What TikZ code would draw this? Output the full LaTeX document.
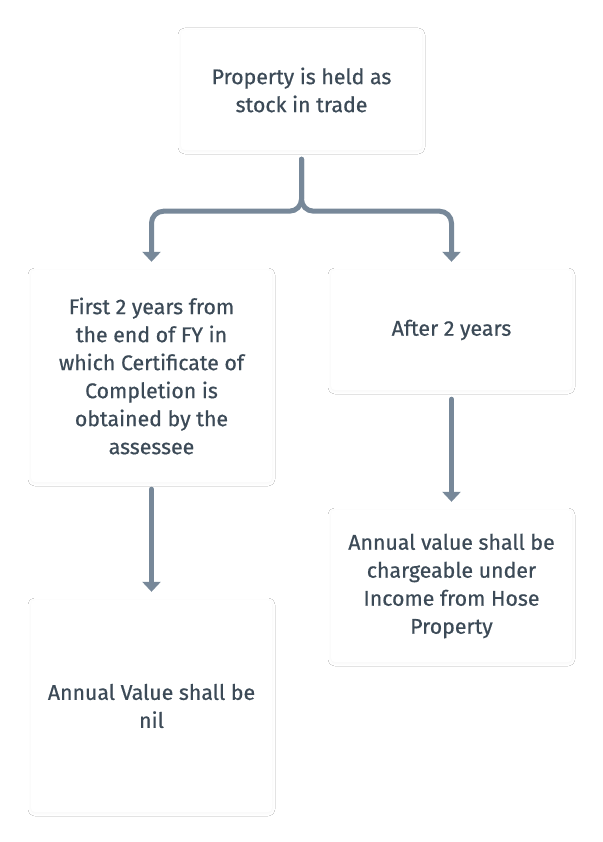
\documentclass[tikz,border=0pt]{standalone}
\usepackage{fontspec}
\setmainfont{Fira Sans}[FakeBold=0.6]
\usetikzlibrary{arrows.meta,calc,shadows.blur}
\definecolor{txt}{HTML}{3C4A57}
\definecolor{conn}{HTML}{778899}
\tikzset{
  box/.style={rectangle, rounded corners=4pt, fill=white, minimum width=241pt, inner sep=0pt,
    align=center, text=txt, font=\fontsize{21.3}{28}\selectfont,
    blur shadow={shadow xshift=0pt, shadow yshift=-1pt, shadow blur steps=6, shadow opacity=4, shadow blur radius=3pt}},
  conn/.style={draw=conn, line width=5pt, line cap=round, -{Triangle[width=18pt,length=10pt]}},
}
\begin{document}
\begin{tikzpicture}[x=1pt,y=-1pt]
\useasboundingbox[fill=white] (0,0) rectangle (602,842);
\node[box, minimum height=120pt] (top) at (301.5,90) {Property is held as\\stock in trade};
\node[box, minimum height=212pt] (lm) at (151.5,376) {First 2 years from\\the end of FY in\\which Certificate of\\Completion is\\obtained by the\\assessee};
\node[box, minimum height=120pt] (rm) at (451.5,330) {After 2 years};
\node[box, minimum height=212pt] (lb) at (151.5,706) {Annual Value shall be\\nil};
\node[box, minimum height=152pt] (rb) at (451.5,586) {Annual value shall be\\chargeable under\\Income from Hose\\Property};
\coordinate (s) at ($(top.south)+(0,9)$);
\coordinate (j) at ($(top.south)+(0,61)$);
\draw[conn, rounded corners=12pt] (s) -- (j) -| ($(lm.north)+(0,-8)$);
\draw[conn, rounded corners=12pt] (s) -- (j) -| ($(rm.north)+(0,-8)$);
\draw[conn] ($(lm.south)+(0,7)$) -- ($(lb.north)+(0,-8)$);
\draw[conn] ($(rm.south)+(0,9)$) -- ($(rb.north)+(0,-8)$);
\end{tikzpicture}
\end{document}
